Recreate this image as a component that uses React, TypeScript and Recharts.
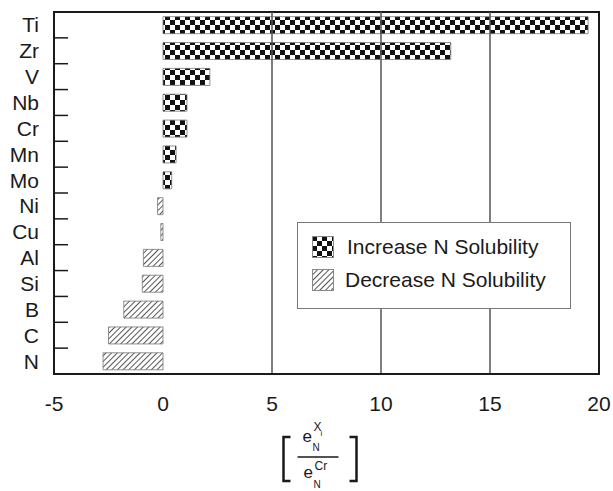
import React from 'react';
import {
  BarChart, Bar, XAxis, YAxis, Cell, ReferenceLine, ReferenceArea, Label,
} from 'recharts';

// elements, top to bottom
const ELEMENTS = ['Ti', 'Zr', 'V', 'Nb', 'Cr', 'Mn', 'Mo', 'Ni', 'Cu', 'Al', 'Si', 'B', 'C', 'N'];
// e_N^Xi / e_N^Cr ratio
const RATIOS = [19.5, 13.2, 2.15, 1.1, 1.1, 0.6, 0.4, -0.25, -0.1, -0.9, -0.95, -1.8, -2.5, -2.75];
const X_TICKS = [-5, 0, 5, 10, 15, 20];
const GRID_X = [5, 10, 15];
const LEGEND_ITEMS = ['Increase N Solubility', 'Decrease N Solubility'];

const data = ELEMENTS.map((name, i) => ({ name, value: RATIOS[i] }));

const W = 613;
const H = 491;
const MARGIN = { top: 12, right: 14, left: 0, bottom: 87 };
const Y_AXIS_W = 54;
const X_AXIS_H = 30;
const PLOT_H = H - MARGIN.top - MARGIN.bottom - X_AXIS_H;
const BAND = PLOT_H / ELEMENTS.length;

const FONT = '"Liberation Sans", Arial, sans-serif';
const INK = '#1a1a1a';

const YTick = (props: any) => {
  const { x, y, payload, index } = props;
  return (
    <g>
      <text x={x - 7} y={y} textAnchor="end" dominantBaseline="central"
        fontFamily={FONT} fontSize={21} fill={INK}>
        {payload.value}
      </text>
      {index < ELEMENTS.length - 1 && (
        <line x1={Y_AXIS_W} x2={Y_AXIS_W + 14} y1={y + BAND / 2} y2={y + BAND / 2}
          stroke={INK} strokeWidth={1.5} />
      )}
    </g>
  );
};

// bracketed ratio e_N^Xi / e_N^Cr under the x axis
const AxisTitle = (props: any) => {
  const vb = props.viewBox || {};
  const cx = vb.x + vb.width / 2 - 8;
  const y0 = vb.y;
  return (
    <g fontFamily={FONT} fill={INK}>
      <path d={`M${cx - 28},${y0 + 63} H${cx - 35} V${y0 + 107} H${cx - 28}`} fill="none" stroke={INK} strokeWidth={2.5} />
      <path d={`M${cx + 31},${y0 + 63} H${cx + 38} V${y0 + 107} H${cx + 31}`} fill="none" stroke={INK} strokeWidth={2.5} />
      <line x1={cx - 21} x2={cx + 20} y1={y0 + 83} y2={y0 + 83} stroke={INK} strokeWidth={1.5} />
      <text x={cx - 16} y={y0 + 68} fontSize={17}>e</text>
      <text x={cx - 5} y={y0 + 57} fontSize={12}>X</text>
      <text x={cx + 2} y={y0 + 62} fontSize={8}>i</text>
      <text x={cx - 6} y={y0 + 77} fontSize={10}>N</text>
      <text x={cx - 15} y={y0 + 104} fontSize={17}>e</text>
      <text x={cx - 4} y={y0 + 96} fontSize={12}>Cr</text>
      <text x={cx - 5} y={y0 + 114} fontSize={10}>N</text>
    </g>
  );
};

const PatternDefs = () => (
  <defs>
    <pattern id="checker" width={10} height={10} patternUnits="userSpaceOnUse">
      <rect width={10} height={10} fill="#fff" />
      <rect x={0} y={0} width={5} height={5} fill="#111" />
      <rect x={5} y={5} width={5} height={5} fill="#111" />
    </pattern>
    <pattern id="hatch" width={4} height={4} patternUnits="userSpaceOnUse" patternTransform="rotate(45)">
      <rect width={4} height={4} fill="#fff" />
      <line x1={0} y1={0} x2={0} y2={4} stroke="#444" strokeWidth={1.8} />
    </pattern>
  </defs>
);

const LegendIcon = ({ id }: { id: string }) => (
  <svg width={22} height={22} style={{ display: 'block' }}>
    <PatternDefs />
    <rect x={0.5} y={0.5} width={21} height={21} fill={`url(#${id})`} stroke="#888" />
  </svg>
);

export default function App() {
  return (
    <div style={{ position: 'absolute', left: 0, top: 0, width: W, height: H, background: '#fff' }}>
      <BarChart width={W} height={H} data={data} layout="vertical" margin={MARGIN} barCategoryGap="18%">
        <PatternDefs />
        <XAxis type="number" domain={[-5, 20]} ticks={X_TICKS} height={X_AXIS_H}
          tickLine={false} axisLine={{ stroke: INK, strokeWidth: 2 }} tickMargin={16}
          tick={{ fontFamily: FONT, fontSize: 21, fill: INK }} allowDataOverflow>
          <Label content={<AxisTitle />} position="bottom" />
        </XAxis>
        <YAxis type="category" dataKey="name" width={Y_AXIS_W} tickLine={false}
          axisLine={{ stroke: INK, strokeWidth: 2 }} tick={<YTick />} interval={0} />
        {GRID_X.map((v) => (
          <ReferenceLine key={v} x={v} stroke="#555" strokeWidth={1.5} />
        ))}
        <ReferenceArea x1={-5} x2={20} fill="none" stroke={INK} strokeWidth={2} />
        <Bar dataKey="value" isAnimationActive={false} stroke="#777" strokeWidth={0.8}>
          {data.map((d, i) => (
            <Cell key={i} fill={d.value >= 0 ? 'url(#checker)' : 'url(#hatch)'} />
          ))}
        </Bar>
      </BarChart>
      <div style={{
        position: 'absolute', left: 297, top: 222, width: 274, height: 87,
        border: '1.5px solid #777', background: '#fff', boxSizing: 'border-box',
        fontFamily: FONT, fontSize: 21, color: INK,
      }}>
        {LEGEND_ITEMS.map((label, i) => (
          <div key={label} style={{
            position: 'absolute', left: 14, top: 13 + i * 33, display: 'flex', alignItems: 'center',
          }}>
            <LegendIcon id={i === 0 ? 'checker' : 'hatch'} />
            <span style={{ marginLeft: i === 0 ? 13 : 11, lineHeight: '22px' }}>{label}</span>
          </div>
        ))}
      </div>
    </div>
  );
}
